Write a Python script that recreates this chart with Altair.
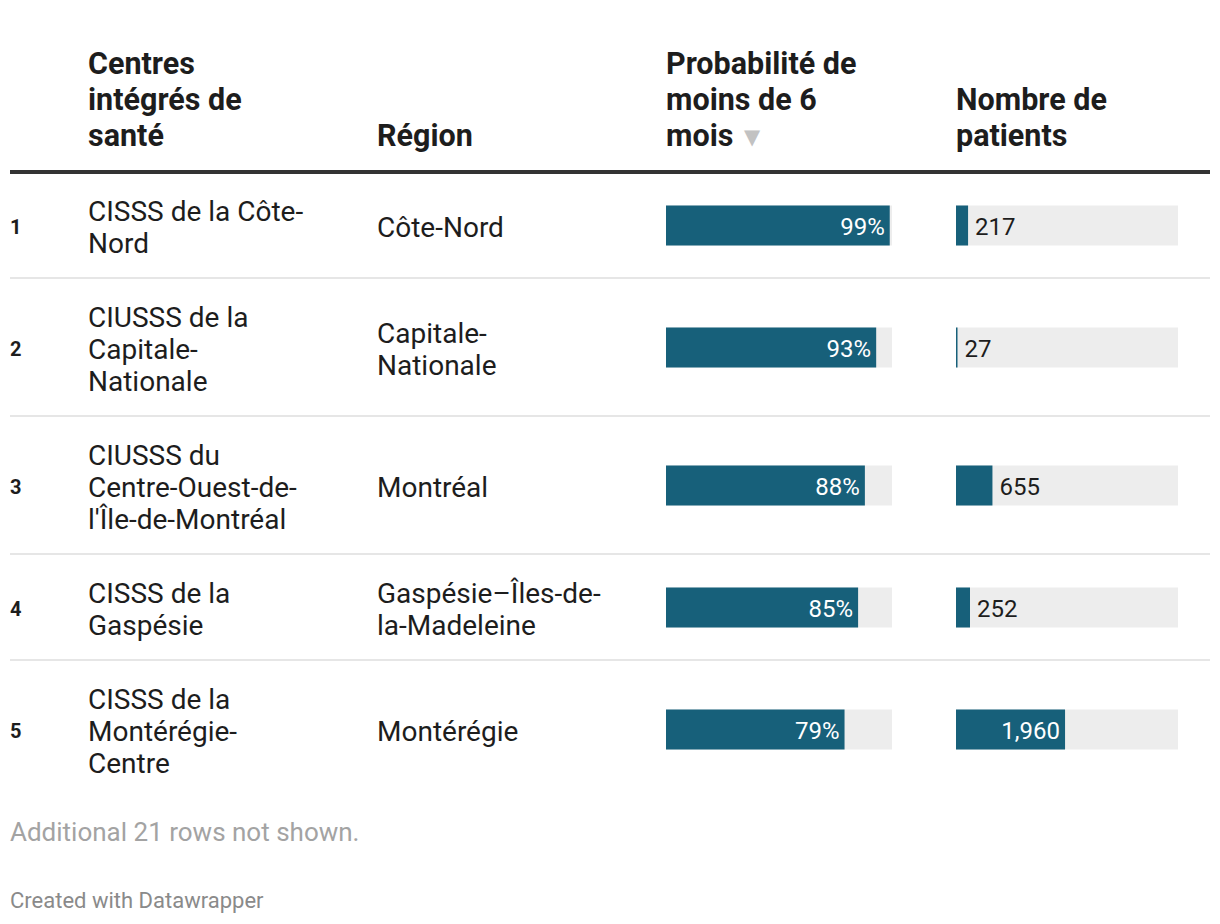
import altair as alt
import pandas as pd

# ---- data ----
ranks = [1, 2, 3, 4, 5]
centres = [
    "CISSS de la Côte-\nNord",
    "CIUSSS de la\nCapitale-\nNationale",
    "CIUSSS du\nCentre-Ouest-de-\nl'Île-de-Montréal",
    "CISSS de la\nGaspésie",
    "CISSS de la\nMontérégie-\nCentre",
]
regions = [
    "Côte-Nord",
    "Capitale-\nNationale",
    "Montréal",
    "Gaspésie–Îles-de-\nla-Madeleine",
    "Montérégie",
]
probabilite = [0.99, 0.93, 0.88, 0.85, 0.79]
patients = [217, 27, 655, 252, 1960]
headers = [
    "Centres\nintégrés de\nsanté",
    "Région",
    "Probabilité de\nmoins de 6\nmois",
    "Nombre de\npatients",
]
note = "Additional 21 rows not shown."
credit = "Created with Datawrapper"
patients_max = 3990  # max over all 26 rows (incl. hidden ones)

# ---- layout (page px -> chart px, page margin 8) ----
M = 8
W, H = 1204, 908
FONT = "Roboto"
BAR_COL = "#17607a"
BG_COL = "#ededed"
TXT = "#1d1d1d"
X_RANK, X_NAME, X_REG = 10 - M, 88 - M, 377 - M
X_PROB0, X_PROB1 = 666 - M, 892 - M
X_PAT0, X_PAT1 = 956 - M, 1178 - M
LINE_H = 32
HEAD_LH = 36
HEAD_LINE_Y = 172 - M
HEAD_BOTTOM = 137 - M
TEXT_DY = 3.5

rows = []
top = HEAD_LINE_Y
for i in range(len(ranks)):
    nc = centres[i].count("\n") + 1
    nr = regions[i].count("\n") + 1
    n = max(nc, nr)
    h = n * LINE_H + 42
    c = top + h / 2
    pat_px = patients[i] / patients_max * (X_PAT1 - X_PAT0)
    rows.append(dict(
        rank=str(ranks[i]),
        centre_lines=centres[i].split("\n"),
        region_lines=regions[i].split("\n"),
        prob=probabilite[i], pat=patients[i],
        prob_lbl=f"{round(probabilite[i]*100)}%",
        pat_lbl=f"{patients[i]:,}",
        inside=bool(pat_px > 80),
        yc=c, ytop=c - 19.5, ybot=c + 20.5, sep=top + h,
        yc_name=c - (nc - 1) * LINE_H / 2,
        yc_reg=c - (nr - 1) * LINE_H / 2,
    ))
    top += h
df = pd.DataFrame(rows)

ypx = alt.Scale(domain=[0, H], range=[0, H], zero=False, nice=False)
xpx = alt.Scale(domain=[0, W], range=[0, W], zero=False, nice=False)
prob_scale = alt.Scale(domain=[0, 1], range=[X_PROB0, X_PROB1], nice=False)
pat_scale = alt.Scale(domain=[0, patients_max], range=[X_PAT0, X_PAT1], nice=False)

base = alt.Chart(df)

def Y(f):
    return alt.Y(f, type="quantitative", scale=ypx, axis=None)

rank_t = base.mark_text(font=FONT, fontSize=20, fontWeight="bold", align="left",
                        baseline="middle", dy=3, color=TXT).encode(
    x=alt.value(X_RANK), y=Y("yc"), text="rank:N")
name_t = base.mark_text(font=FONT, fontSize=28, align="left", baseline="middle",
                        lineHeight=LINE_H, dy=TEXT_DY, color=TXT).encode(
    x=alt.value(X_NAME), y=Y("yc_name"), text="centre_lines")
reg_t = base.mark_text(font=FONT, fontSize=28, align="left", baseline="middle",
                       lineHeight=LINE_H, dy=TEXT_DY, color=TXT).encode(
    x=alt.value(X_REG), y=Y("yc_reg"), text="region_lines")

prob_bg = base.mark_rect(color=BG_COL).encode(
    x=alt.value(X_PROB0), x2=alt.value(X_PROB1), y=Y("ytop"), y2="ybot")
prob_bar = base.mark_rect(color=BAR_COL).encode(
    x=alt.X("prob:Q", scale=prob_scale, axis=None), x2=alt.datum(0),
    y=Y("ytop"), y2="ybot")
prob_lbl = base.mark_text(font=FONT, fontSize=24, align="right", baseline="middle",
                          dx=-5, dy=2.5, color="white").encode(
    x=alt.X("prob:Q", scale=prob_scale, axis=None), y=Y("yc"), text="prob_lbl")

pat_bg = base.mark_rect(color=BG_COL).encode(
    x=alt.value(X_PAT0), x2=alt.value(X_PAT1), y=Y("ytop"), y2="ybot")
pat_bar = base.mark_rect(color=BAR_COL).encode(
    x=alt.X("pat:Q", scale=pat_scale, axis=None), x2=alt.datum(0),
    y=Y("ytop"), y2="ybot")
pat_out = base.transform_filter("!datum.inside").mark_text(
    font=FONT, fontSize=24, align="left", baseline="middle", dx=7, dy=2.5, color=TXT).encode(
    x=alt.X("pat:Q", scale=pat_scale, axis=None), y=Y("yc"), text="pat_lbl")
pat_in = base.transform_filter("datum.inside").mark_text(
    font=FONT, fontSize=24, align="right", baseline="middle", dx=-5, dy=2.5, color="white").encode(
    x=alt.X("pat:Q", scale=pat_scale, axis=None), y=Y("yc"), text="pat_lbl")

sep = base.transform_filter(f"datum.rank != '{len(ranks)}'").mark_rule(
    color="#e6e6e6", strokeWidth=2).encode(
    x=alt.value(10 - M), x2=alt.value(1210 - M), y=Y("sep"))

# header
hdf = pd.DataFrame(dict(
    h=[s.split("\n") for s in headers],
    n=[s.count("\n") + 1 for s in headers],
    col=[X_NAME, X_REG, X_PROB0, X_PAT0],
))
hdf["yc"] = HEAD_BOTTOM - (hdf["n"] - 1) * HEAD_LH
head_t = alt.Chart(hdf).mark_text(font=FONT, fontSize=30.5, fontWeight="bold",
                                  align="left", baseline="middle", lineHeight=HEAD_LH,
                                  color=TXT).encode(
    x=alt.X("col:Q", scale=xpx, axis=None), y=Y("yc"), text="h")
arrow = alt.Chart(pd.DataFrame(dict(t=["▼"], yc=[HEAD_BOTTOM + 1]))).mark_text(
    font="DejaVu Sans", fontSize=21, align="left", baseline="middle", color="#c2c2c2").encode(
    x=alt.value(744 - M), y=Y("yc"), text="t")
head_line = alt.Chart(pd.DataFrame(dict(yc=[HEAD_LINE_Y]))).mark_rule(
    color="#333333", strokeWidth=4).encode(
    x=alt.value(10 - M), x2=alt.value(1210 - M), y=Y("yc"))

foot = alt.Chart(pd.DataFrame(dict(t=[note, credit], yc=[833 - M, 901 - M],
                                   fs=[26, 22], c=["a", "b"]))).mark_text(
    font=FONT, align="left", baseline="middle").encode(
    x=alt.value(10 - M), y=Y("yc"), text="t",
    size=alt.Size("fs:Q", scale=None, legend=None),
    color=alt.Color("c:N", scale=alt.Scale(domain=["a", "b"], range=["#a3a3a3", "#8a8a8a"]),
                    legend=None))

chart = alt.layer(
    head_t, arrow, head_line, sep,
    prob_bg, prob_bar, prob_lbl,
    pat_bg, pat_bar, pat_out, pat_in,
    rank_t, name_t, reg_t, foot,
).resolve_scale(x="independent").properties(
    width=W, height=H, padding=0, autosize=alt.AutoSizeParams(type="none")
).configure(background="white", view=alt.ViewConfig(stroke=None))

chart.save("out.html", embed_options={"renderer": "svg", "actions": False})
